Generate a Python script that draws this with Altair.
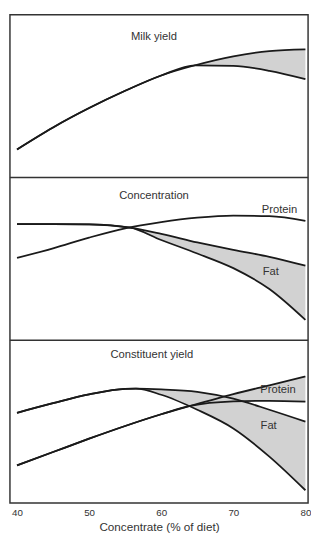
import altair as alt
import pandas as pd

# ---------------- data (relative units 0-100 per panel) -------------
# Panel 1: Milk yield
milk_common_x = [40, 45, 50, 55, 60, 64.7]
milk_common_y = [17.3, 30.8, 42.7, 53.3, 62.7, 69.0]
milk_branch_x = [64.7, 70, 75, 80]
milk_upper_y = [69.0, 74.5, 77.7, 78.8]
milk_lower_y = [69.0, 68.6, 65.6, 60.5]

# Panel 2: Concentration
conc_protein_x = [40, 45, 50, 55, 60, 65, 70, 75, 80]
conc_protein_y = [50.6, 56.5, 63.1, 68.8, 72.6, 75.3, 76.6, 76.3, 73.4]
conc_fat_common_x = [40, 45, 50, 55.7]
conc_fat_common_y = [71.4, 71.4, 71.2, 69.2]
conc_fat_branch_x = [55.7, 60, 65, 70, 75, 80]
conc_fat_upper_y = [69.2, 65.4, 60.1, 55.5, 51.3, 45.8]
conc_fat_lower_y = [69.2, 61.6, 53.3, 44.3, 31.5, 12.5]

# Panel 3: Constituent yield
cy_protein_common_x = [40, 45, 50, 55, 60, 64]
cy_protein_common_y = [23.1, 31.3, 39.5, 47.3, 54.5, 59.6]
cy_protein_branch_x = [64, 70, 75, 80]
cy_protein_upper_y = [59.6, 66.9, 72.3, 77.7]
cy_protein_lower_y = [59.6, 62.4, 62.8, 62.2]
cy_fat_common_x = [40, 45, 50, 55, 56.5]
cy_fat_common_y = [55.4, 61.3, 66.7, 70.1, 70.2]
cy_fat_branch_x = [56.5, 60, 65, 70, 75, 80]
cy_fat_upper_y = [70.2, 69.8, 68.3, 64.1, 57.3, 50.0]
cy_fat_lower_y = [70.2, 66.5, 57.3, 45.8, 28.5, 7.8]

# Text labels
panel_titles = ["Milk yield", "Concentration", "Constituent yield"]
title_x = [59, 59, 58.7]
title_y = [86.3, 88.7, 91.0]
conc_label_text = ["Protein", "Fat"]
conc_label_x = [76.4, 75.2]
conc_label_y = [79.8, 41.7]
cy_label_text = ["Protein", "Fat"]
cy_label_x = [76.2, 74.9]
cy_label_y = [69.3, 47.2]

x_ticks = [40, 50, 60, 70, 80]
x_title = "Concentrate (% of diet)"

# panel stacking: each panel occupies 100 units of the shared vertical scale
panel_offset = [200, 100, 0]
panel_dividers = [100, 200]

# ---------------- build tables -------------
FONT = "Liberation Sans"
XDOM = [39.02, 80.37]


def series(name, xs, ys, off):
    return [{"series": name, "x": a, "y": b + off} for a, b in zip(xs, ys)]


def branch_lines(prefix, cx, cy, bx, up, lo, off):
    rows = series(prefix + "_upper", cx[:-1] + bx, cy[:-1] + up, off)
    rows += series(prefix + "_lower", cx[:-1] + bx, cy[:-1] + lo, off)
    return rows


def band(bx, up, lo, off):
    return pd.DataFrame({"x": bx, "hi": [v + off for v in up], "lo": [v + off for v in lo]})


o1, o2, o3 = panel_offset
lines = branch_lines("milk", milk_common_x, milk_common_y, milk_branch_x,
                     milk_upper_y, milk_lower_y, o1)
lines += series("conc_protein", conc_protein_x, conc_protein_y, o2)
lines += branch_lines("conc_fat", conc_fat_common_x, conc_fat_common_y, conc_fat_branch_x,
                      conc_fat_upper_y, conc_fat_lower_y, o2)
lines += branch_lines("cy_protein", cy_protein_common_x, cy_protein_common_y,
                      cy_protein_branch_x, cy_protein_upper_y, cy_protein_lower_y, o3)
lines += branch_lines("cy_fat", cy_fat_common_x, cy_fat_common_y, cy_fat_branch_x,
                      cy_fat_upper_y, cy_fat_lower_y, o3)
lines_df = pd.DataFrame(lines)

bands = [
    band(milk_branch_x, milk_upper_y, milk_lower_y, o1),
    band(conc_fat_branch_x, conc_fat_upper_y, conc_fat_lower_y, o2),
    band(cy_fat_branch_x, cy_fat_upper_y, cy_fat_lower_y, o3),
    band(cy_protein_branch_x, cy_protein_upper_y, cy_protein_lower_y, o3),
]

texts_df = pd.DataFrame({
    "t": panel_titles + conc_label_text + cy_label_text,
    "x": title_x + conc_label_x + cy_label_x,
    "y": [v + o for v, o in zip(title_y, panel_offset)]
         + [v + o2 for v in conc_label_y] + [v + o3 for v in cy_label_y],
})

dividers_df = pd.DataFrame({"y": panel_dividers})

# ---------------- encodings -------------
x_enc = alt.X(
    "x:Q",
    scale=alt.Scale(domain=XDOM, nice=False, zero=False),
    axis=alt.Axis(values=x_ticks, ticks=False, domain=False, grid=False,
                  labelFontSize=10, labelPadding=5, labelColor="#333",
                  labelFont=FONT, title=x_title, titleFontSize=12,
                  titleFont=FONT, titleFontWeight="normal", titleColor="#333",
                  titlePadding=4),
)
y_scale = alt.Scale(domain=[0, 300], nice=False, zero=False)


def yenc(field):
    return alt.Y(field + ":Q", scale=y_scale, axis=None)


layers = []
for b in bands:
    layers.append(
        alt.Chart(b).mark_area(color="#d2d2d2", interpolate="monotone").encode(
            x=x_enc, y=yenc("hi"), y2="lo:Q"
        )
    )
layers.append(
    alt.Chart(lines_df).mark_line(color="#1a1a1a", strokeWidth=1.8, interpolate="monotone").encode(
        x=x_enc, y=yenc("y"), detail="series:N"
    )
)
layers.append(
    alt.Chart(dividers_df).mark_rule(color="#333", strokeWidth=1.5).encode(y=yenc("y"))
)
layers.append(
    alt.Chart(texts_df).mark_text(font=FONT, fontSize=11.5, color="#333").encode(
        x=x_enc, y=yenc("y"), text="t:N"
    )
)

chart = alt.layer(*layers).properties(
    width=311,
    height=531,
    padding={"left": 1, "top": 0, "right": 0, "bottom": 0},
    autosize=alt.AutoSizeParams(type="fit", contains="padding"),
).configure_view(stroke="#333", strokeWidth=1.5)

chart.save("out.html", embed_options={"renderer": "svg", "actions": False})
